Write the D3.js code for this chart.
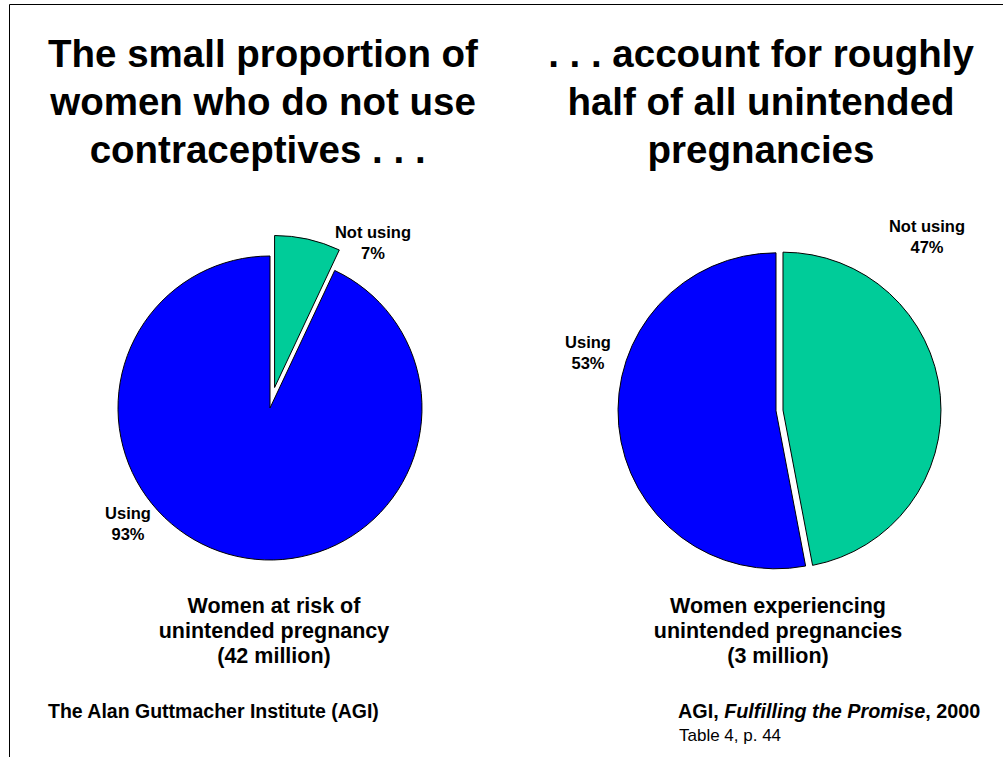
<!DOCTYPE html>
<html>
<head>
<meta charset="utf-8">
<script src="https://cdn.jsdelivr.net/npm/d3@7"></script>
<style>
  html, body { margin: 0; padding: 0; background: #fff; }
  svg { display: block; font-family: "Liberation Sans", Arial, sans-serif; }
</style>
</head>
<body>
<svg id="chart" width="1003" height="757"></svg>
<script>
// ---- data ----
const categories = ["Not using", "Using"];
const leftValues = [7, 93];
const rightValues = [47, 53];
const leftTitle = ["The small proportion of", "women who do not use", "contraceptives . . .\u00a0"];
const rightTitle = [". . . account for roughly", "half of all unintended", "pregnancies"];
const leftCaption = ["Women at risk of", "unintended pregnancy", "(42 million)"];
const rightCaption = ["Women experiencing", "unintended pregnancies", "(3 million)"];
const sourceLeft = "The Alan Guttmacher Institute (AGI)";
const sourceRight = ["AGI, ", "Fulfilling the Promise", ", 2000"];
const sourceNote = "Table 4, p. 44";

// ---- styles ----
const colors = { "Not using": "#00CC99", "Using": "#0000FF" };

const svg = d3.select("#chart");

// frame lines
svg.append("line").attr("x1", 9.5).attr("y1", 4.5).attr("x2", 1003).attr("y2", 4.5)
  .attr("stroke", "#000").attr("stroke-width", 1);
svg.append("line").attr("x1", 9.5).attr("y1", 4.5).attr("x2", 9.5).attr("y2", 757)
  .attr("stroke", "#000").attr("stroke-width", 1);

function multiline(lines, x, y0, dy, size) {
  const t = svg.append("text").attr("text-anchor", "middle")
    .attr("font-weight", "bold").attr("font-size", size).attr("fill", "#000");
  lines.forEach((l, i) => t.append("tspan").attr("x", x).attr("y", y0 + i * dy).text(l));
}

// titles
multiline(leftTitle, 263, 67, 48, 38.5);
multiline(rightTitle, 761, 67, 48, 38.5);

// pies
const pie = d3.pie().sort(null).value(d => d.value);

function drawPie(values, cx, cy, r, explode, labelPos) {
  const data = categories.map((c, i) => ({ cat: c, value: values[i], explode: explode[i] }));
  const arcs = pie(data);
  const arc = d3.arc().innerRadius(0).outerRadius(r);
  const g = svg.append("g").attr("transform", `translate(${cx},${cy})`);
  g.selectAll("path").data(arcs).join("path")
    .attr("d", arc)
    .attr("transform", d => {
      const mid = (d.startAngle + d.endAngle) / 2;
      const e = d.data.explode;
      return `translate(${e * Math.sin(mid)},${-e * Math.cos(mid)})`;
    })
    .attr("fill", d => colors[d.data.cat])
    .attr("stroke", "#000").attr("stroke-width", 1);
  arcs.forEach((d, i) => {
    const p = labelPos[i];
    const t = svg.append("text").attr("text-anchor", "middle")
      .attr("font-weight", "bold").attr("font-size", 16.5).attr("fill", "#000");
    t.append("tspan").attr("x", p[0]).attr("y", p[1]).text(d.data.cat);
    t.append("tspan").attr("x", p[0]).attr("y", p[1] + 21).text(d.data.value + "%");
  });
}

drawPie(leftValues, 270, 408, 152, [21, 0], [[373, 238], [128, 519]]);
drawPie(rightValues, 779.5, 410.5, 158, [3.5, 3.5], [[927, 232], [588, 348]]);

// captions
multiline(leftCaption, 274, 613, 25, 21.5);
multiline(rightCaption, 778, 613, 25, 21.5);

// sources
svg.append("text").attr("x", 48).attr("y", 718).attr("font-weight", "bold")
  .attr("font-size", 19.5).attr("fill", "#000").text(sourceLeft);
const sr = svg.append("text").attr("x", 678).attr("y", 718).attr("font-weight", "bold")
  .attr("font-size", 19.8).attr("fill", "#000");
sourceRight.forEach((s, i) => sr.append("tspan").attr("font-style", i === 1 ? "italic" : "normal").text(s));
svg.append("text").attr("x", 679).attr("y", 741)
  .attr("font-size", 17).attr("fill", "#000").text(sourceNote);
</script>
</body>
</html>
